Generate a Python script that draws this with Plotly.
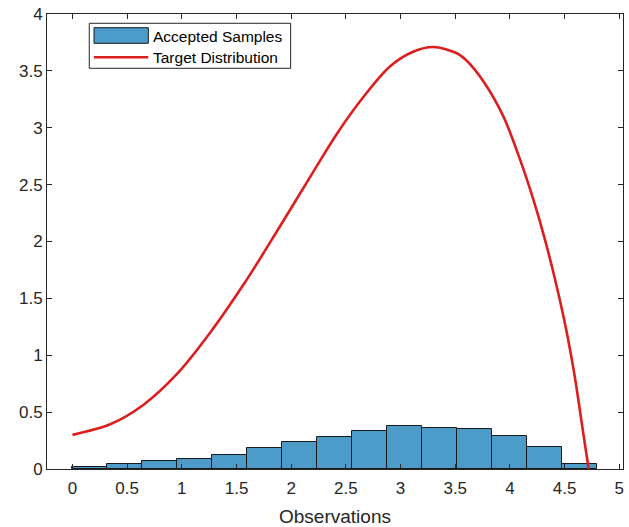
import plotly.graph_objects as go

# Histogram (pdf-normalised) of accepted samples
bin_edges = [0.0, 0.32, 0.64, 0.96, 1.28, 1.60, 1.92, 2.24, 2.56, 2.88,
             3.20, 3.52, 3.84, 4.16, 4.48, 4.80]
bin_heights = [0.020, 0.044, 0.067, 0.090, 0.126, 0.185, 0.240, 0.278,
               0.337, 0.374, 0.360, 0.348, 0.293, 0.196, 0.047]

# Target distribution curve
curve_x = [0.0, 0.35, 0.65, 0.96, 1.26, 1.57, 1.87, 2.20, 2.42, 2.66,
           2.905, 3.12, 3.30, 3.515, 3.61, 3.76, 3.94, 4.093, 4.214, 4.321,
           4.428, 4.52, 4.595, 4.656, 4.72]
curve_y = [0.30, 0.395, 0.565, 0.84, 1.20, 1.63, 2.09, 2.61, 2.95, 3.27,
           3.54, 3.67, 3.71, 3.655, 3.585, 3.405, 3.10, 2.72, 2.37, 2.015,
           1.605, 1.20, 0.80, 0.41, 0.0]

x_ticks = [0, 0.5, 1, 1.5, 2, 2.5, 3, 3.5, 4, 4.5, 5]
x_tick_labels = ["0", "0.5", "1", "1.5", "2", "2.5", "3", "3.5", "4", "4.5", "5"]
y_ticks = [0, 0.5, 1, 1.5, 2, 2.5, 3, 3.5, 4]
y_tick_labels = ["0", "0.5", "1", "1.5", "2", "2.5", "3", "3.5", "4"]

legend_labels = ["Accepted Samples", "Target Distribution"]

centers = [(a + b) / 2 for a, b in zip(bin_edges[:-1], bin_edges[1:])]
widths = [b - a for a, b in zip(bin_edges[:-1], bin_edges[1:])]

axis_color = "#262626"
bar_color = "#4C9BC8"
bar_edge = "#1a1a1a"
line_color = "#DD1E1E"
font_family = "Liberation Sans, Arial, sans-serif"

fig = go.Figure()
fig.add_trace(go.Bar(
    x=centers, y=bin_heights, width=widths,
    marker=dict(color=bar_color, line=dict(color=bar_edge, width=1)),
    name=legend_labels[0], showlegend=False,
))
fig.add_trace(go.Scatter(
    x=curve_x, y=curve_y, mode="lines",
    line=dict(color=line_color, width=2.6, shape="spline", smoothing=0.9),
    name=legend_labels[1], showlegend=False,
))

# MATLAB-style legend box (paper coordinates of the plot area)
shapes = [
    dict(type="rect", xref="paper", yref="paper", x0=0.0734, x1=0.423,
         y0=0.8807, y1=0.9796, line=dict(color=axis_color, width=1),
         fillcolor="white", layer="above"),
    dict(type="rect", xref="paper", yref="paper", x0=0.0816, x1=0.1759,
         y0=0.9356, y1=0.9699, line=dict(color=bar_edge, width=1),
         fillcolor=bar_color, layer="above"),
    dict(type="line", xref="paper", yref="paper", x0=0.0816, x1=0.1759,
         y0=0.9049, y1=0.9049, line=dict(color=line_color, width=2.6),
         layer="above"),
]
annotations = [
    dict(text=legend_labels[0], xref="paper", yref="paper", x=0.1800, y=0.950,
         xanchor="left", yanchor="middle", showarrow=False,
         font=dict(size=15.5, color="black")),
    dict(text=legend_labels[1], xref="paper", yref="paper", x=0.1800, y=0.905,
         xanchor="left", yanchor="middle", showarrow=False,
         font=dict(size=15.5, color="black")),
]

fig.update_layout(
    width=629, height=527,
    margin=dict(l=47, r=6, t=14, b=58, autoexpand=False),
    paper_bgcolor="white", plot_bgcolor="white",
    font=dict(family=font_family, color=axis_color, size=17),
    bargap=0,
    showlegend=False,
    shapes=shapes,
    annotations=annotations,
    xaxis=dict(
        range=[-0.233, 5.034], tickvals=x_ticks, ticktext=x_tick_labels,
        showline=True, linecolor=axis_color, linewidth=1, mirror="ticks",
        ticks="inside", ticklen=5, tickcolor=axis_color, showgrid=False,
        zeroline=False, tickfont=dict(size=17), automargin=False,
        ticklabelstandoff=4,
        title=dict(text="Observations", font=dict(size=19), standoff=14),
    ),
    yaxis=dict(
        range=[0, 4], tickvals=y_ticks, ticktext=y_tick_labels,
        showline=True, linecolor=axis_color, linewidth=1, mirror="ticks",
        ticks="inside", ticklen=5, tickcolor=axis_color, showgrid=False,
        zeroline=False, tickfont=dict(size=17), automargin=False,
    ),
)

fig.write_html(
    "out.html",
    config={"displayModeBar": False},
    post_script="document.body.style.margin='0';document.body.style.overflow='hidden';",
)
